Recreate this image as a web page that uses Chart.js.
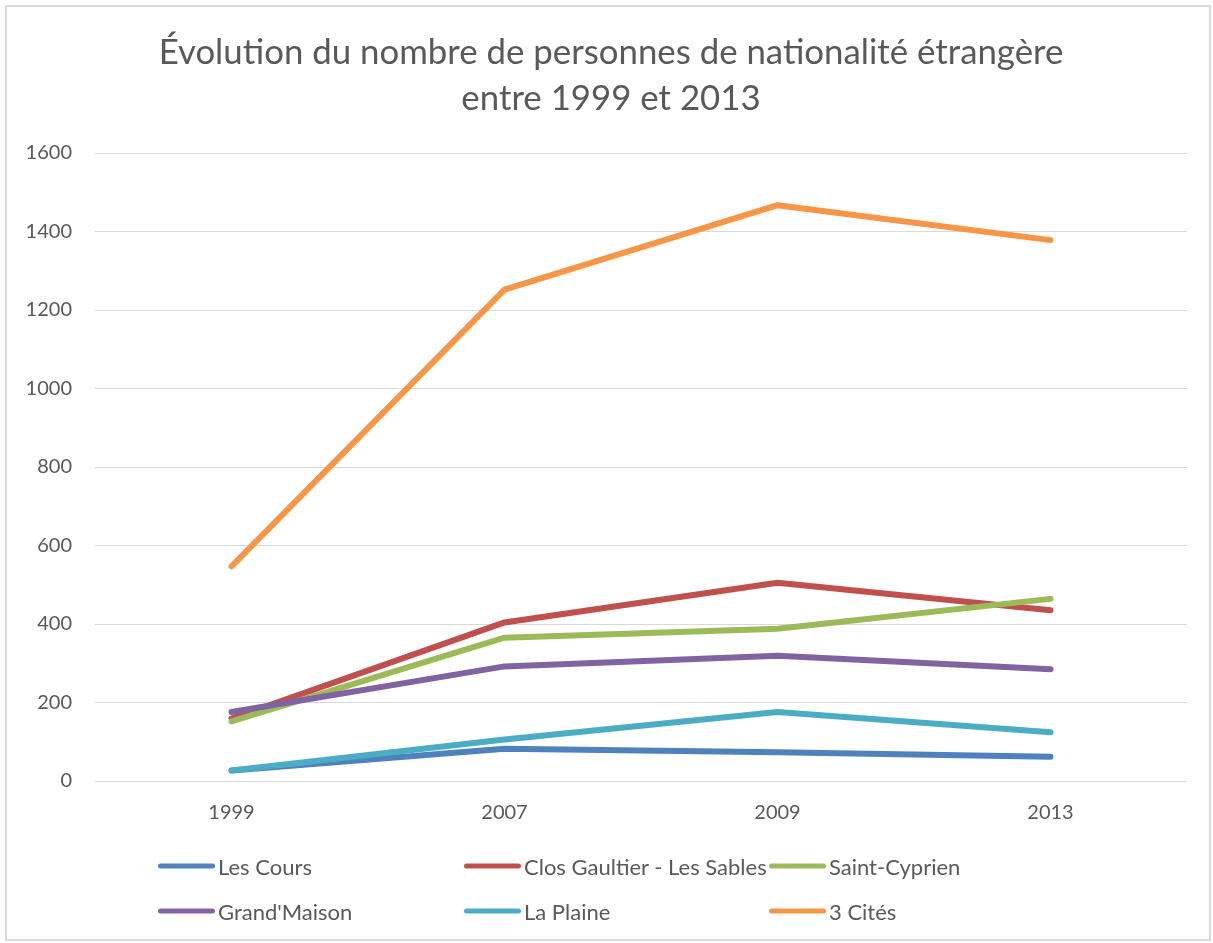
<!DOCTYPE html>
<html lang="fr">
<head>
<meta charset="utf-8">
<title>Évolution du nombre de personnes de nationalité étrangère</title>
<script src="https://cdn.jsdelivr.net/npm/chart.js@4.4.0/dist/chart.umd.min.js"></script>
<style>
  html, body { margin: 0; padding: 0; background: #fff; }
  #frame {
    position: absolute; left: 5px; top: 5px;
    width: 1206px; height: 936px;
    box-sizing: border-box;
    border: 2px solid #d9d9d9;
  }
  #chart-wrap { position: absolute; left: 0; top: 0; width: 1202px; height: 932px; }
  #legend { position: absolute; left: 0; top: 0; width: 100%; height: 100%; pointer-events: none; }
  .legend-item {
    position: absolute; display: flex; align-items: center;
    font-family: Lato, "Open Sans", sans-serif; font-size: 22px; color: #595959;
    white-space: nowrap; transform: translateY(-50%);
  }
  .legend-line { width: 57px; height: 5px; border-radius: 3px; margin-right: 3px; }
</style>
</head>
<body>
<div id="frame">
  <div id="chart-wrap"><canvas id="myChart"></canvas></div>
  <div id="legend"></div>
</div>
<script>
// Data
const years = ['1999', '2007', '2009', '2013'];
const seriesNames = ['Les Cours', 'Clos Gaultier - Les Sables', 'Saint-Cyprien', "Grand'Maison", 'La Plaine', '3 Cités'];
const lesCours = [27, 82, 73, 62];
const closGaultier = [159, 404, 505, 435];
const saintCyprien = [152, 365, 388, 464];
const grandMaison = [176, 292, 319, 285];
const laPlaine = [27, 106, 176, 124];
const troisCites = [547, 1252, 1467, 1378];
const yTicks = [0, 200, 400, 600, 800, 1000, 1200, 1400, 1600];

const seriesValues = [lesCours, closGaultier, saintCyprien, grandMaison, laPlaine, troisCites];
const seriesColors = ['#4F81BD', '#C0504D', '#9BBB59', '#8064A2', '#4BACC6', '#F79646'];

const FONT = 'Lato, "Open Sans", sans-serif';
const TEXT_COLOR = '#595959';

// Build datasets (later series drawn on top, like Excel)
const datasets = seriesNames.map((name, i) => ({
    label: name,
    data: seriesValues[i],
    borderColor: seriesColors[i],
    backgroundColor: seriesColors[i],
    borderWidth: 6,
    borderCapStyle: 'round',
    borderJoinStyle: 'round',
    pointRadius: 0,
    tension: 0,
    order: seriesNames.length - i
}));

const ctx = document.getElementById('myChart');

new Chart(ctx, {
    type: 'line',
    data: { labels: years, datasets: datasets },
    options: {
        responsive: true,
        maintainAspectRatio: false,
        animation: false,
        layout: { padding: { left: 6, right: 0, top: 0, bottom: 94 } },
        plugins: {
            legend: { display: false },
            tooltip: { enabled: false },
            title: {
                display: true,
                text: ['Évolution du nombre de personnes de nationalité étrangère', 'entre 1999 et 2013'],
                color: TEXT_COLOR,
                font: { family: FONT, size: 34.8, weight: 'normal', lineHeight: 46 / 34.8 },
                padding: { top: 23, bottom: 31 }
            }
        },
        scales: {
            x: {
                type: 'category',
                offset: true,
                grid: { display: false, drawTicks: false },
                border: { display: false },
                ticks: { color: TEXT_COLOR, font: { family: FONT, size: 20 }, padding: 20, maxRotation: 0 }
            },
            y: {
                min: 0,
                max: 1600,
                afterBuildTicks: (scale) => { scale.ticks = yTicks.map(v => ({ value: v })); },
                afterFit: (scale) => { scale.width = 82; },
                grid: { color: '#d9d9d9', lineWidth: 1, drawTicks: false },
                border: { display: false },
                ticks: {
                    color: TEXT_COLOR,
                    font: { family: FONT, size: 20 },
                    padding: 23,
                    callback: (value) => String(value)
                }
            },
            // empty right-hand spacer so the plot ends where the original does
            spacer: {
                type: 'linear',
                position: 'right',
                min: 0,
                max: 1600,
                afterFit: (scale) => { scale.width = 22; },
                grid: { display: false, drawTicks: false },
                border: { display: false },
                ticks: { display: false }
            }
        }
    }
});

// HTML legend in a 3-column grid
const legendEl = document.getElementById('legend');
const legendCols = [151, 457, 762];
const legendRows = [859, 904];
seriesNames.forEach((name, i) => {
    const item = document.createElement('div');
    item.className = 'legend-item';
    item.style.left = legendCols[i % 3] + 'px';
    item.style.top = legendRows[Math.floor(i / 3)] + 'px';
    const line = document.createElement('span');
    line.className = 'legend-line';
    line.style.background = seriesColors[i];
    const txt = document.createElement('span');
    txt.textContent = name;
    item.appendChild(line);
    item.appendChild(txt);
    legendEl.appendChild(item);
});
</script>
</body>
</html>
